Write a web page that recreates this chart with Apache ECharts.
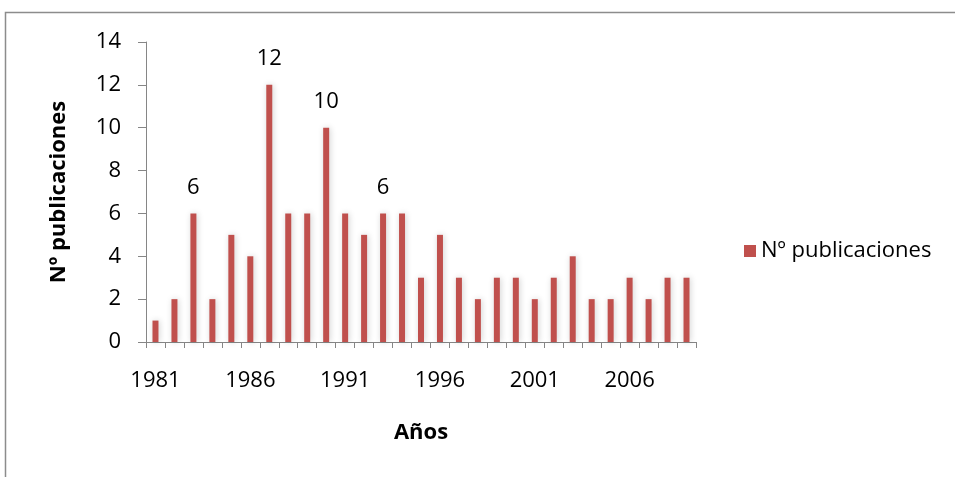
<!DOCTYPE html>
<html><head><meta charset="utf-8">
<script src="https://cdn.jsdelivr.net/npm/echarts@6/dist/echarts.min.js"></script>
<style>html,body{margin:0;padding:0;background:#fff}#c{width:955px;height:477px}</style>
</head><body><div id="c"></div>
<script>
const years = ['1981','1982','1983','1984','1985','1986','1987','1988','1989','1990','1991','1992','1993','1994','1995','1996','1997','1998','1999','2000','2001','2002','2003','2004','2005','2006','2007','2008','2009'];
const publicaciones = [1,2,6,2,5,4,12,6,6,10,6,5,6,6,3,5,3,2,3,3,2,3,4,2,2,3,2,3,3];
const labeledYears = ['1983','1987','1990','1993'];
const yTicks = [0,2,4,6,8,10,12,14];
const seriesName = 'Nº publicaciones';
const xName = 'Años';

const font = '"Open Sans", "Noto Sans", sans-serif';
const fs = 22;
const chart = echarts.init(document.getElementById('c'));
chart.setOption({
  animation: false,
  textStyle: {fontFamily: font},
  graphic: [{type:'rect', shape:{x:5.5,y:12.5,width:1000,height:520}, style:{fill:'none',stroke:'#8c8c8c',lineWidth:1.5}, z:-1}],
  grid: {left:146, top:42, width:550, height:300, containLabel:false},
  legend: {data:[seriesName], left:739, top:235, itemWidth:12, itemHeight:12, itemGap:8, icon:'rect',
    textStyle:{fontSize:fs, color:'#000', fontFamily:font}},
  xAxis: {type:'category', data:years, boundaryGap:true,
    name:xName, nameLocation:'middle', nameGap:80,
    nameTextStyle:{fontSize:fs, fontWeight:'bold', color:'#000', fontFamily:font},
    axisLine:{lineStyle:{color:'#868686', width:1}},
    axisTick:{show:true, interval:0, length:6, lineStyle:{color:'#868686'}},
    axisLabel:{interval:4, fontSize:fs, color:'#000', margin:28, fontFamily:font},
    splitLine:{show:false}},
  yAxis: {type:'value', min:0, max:14, interval:2,
    name:seriesName, nameLocation:'middle', nameGap:76, nameRotate:90,
    nameTextStyle:{fontSize:fs, fontWeight:'bold', color:'#000', fontFamily:font},
    axisLine:{show:true, lineStyle:{color:'#868686', width:1}},
    axisTick:{show:true, length:8, lineStyle:{color:'#868686'}},
    axisLabel:{fontSize:fs, color:'#000', margin:25, fontFamily:font,
      formatter: v => yTicks.includes(v) ? String(v) : ''},
    splitLine:{show:false}},
  series: [{
    name: seriesName, type:'bar', barWidth:6,
    itemStyle:{color:'#C0504D', shadowColor:'rgba(0,0,0,0.18)', shadowBlur:6, shadowOffsetX:1, shadowOffsetY:0},
    data: publicaciones.map((v,i) => ({value:v, label:{show: labeledYears.includes(years[i])}})),
    label:{position:'top', distance:15, fontSize:fs, color:'#000', fontFamily:font}
  }]
});
</script></body></html>
